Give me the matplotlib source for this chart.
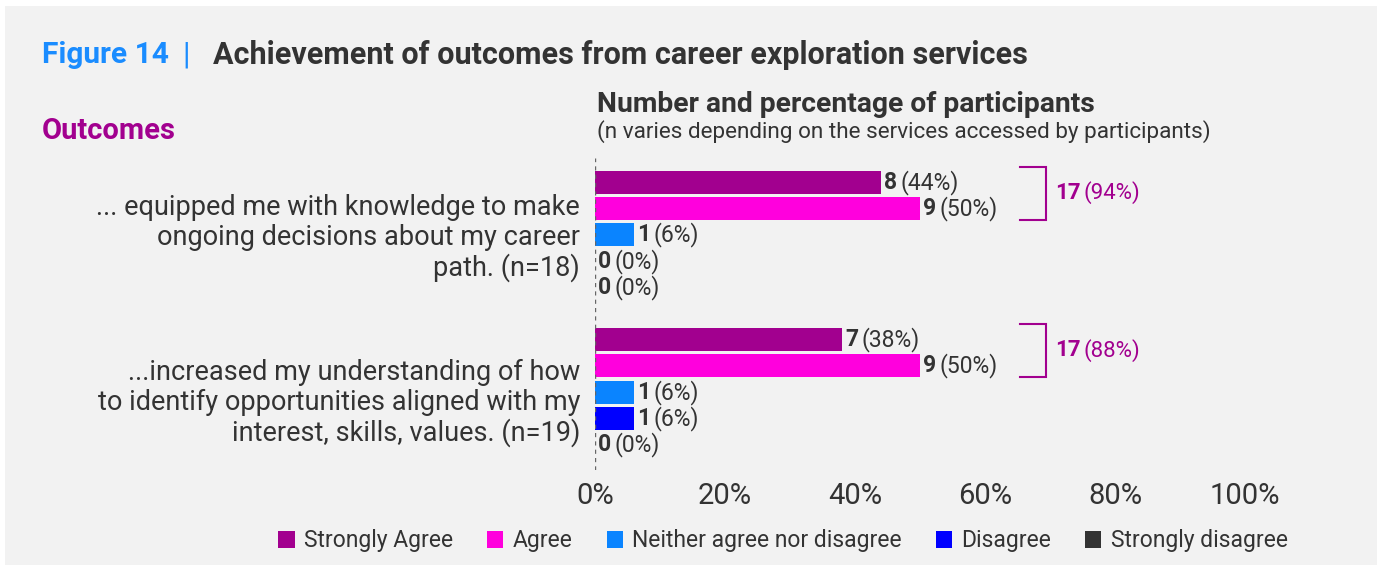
import numpy as np
import matplotlib.pyplot as plt
from matplotlib.patches import Rectangle, Patch

plt.rcParams['font.family'] = ['Liberation Sans Narrow', 'Roboto', 'DejaVu Sans']

# survey responses per outcome
outcomes = [
    "... equipped me with knowledge to make\nongoing decisions about my career\npath. (n=18)",
    "...increased my understanding of how\nto identify opportunities aligned with my\ninterest, skills, values. (n=19)",
]
responses = ["Strongly Agree", "Agree", "Neither agree nor disagree",
             "Disagree", "Strongly disagree"]
counts = [
    [8, 9, 1, 0, 0],
    [7, 9, 1, 1, 0],
]
percents = [
    [44, 50, 6, 0, 0],
    [38, 50, 6, 6, 0],
]
agree_total = [17, 17]
agree_total_pct = [94, 88]

colors = ["#a2008f", "#ff00dd", "#0a84ff", "#0000ff", "#333333"]
dark = "#333333"
purple = "#a2008f"
blue = "#1a8cff"

fig = plt.figure(figsize=(13.8, 5.71), dpi=100)
fig.patch.set_facecolor("white")
fig.patches.append(Rectangle((5 / 1380, 1 - 565 / 571), 1372 / 1380, 559 / 571,
                             transform=fig.transFigure, facecolor="#f2f2f2",
                             edgecolor="none", zorder=-10))

ax = fig.add_axes([595 / 1380, 1 - 470 / 571, 650 / 1380, 312 / 571])
ax.set_facecolor("none")

row_gap = 6
bar_h = 0.88
for g in range(len(outcomes)):
    for r in range(len(responses)):
        y = g * row_gap + r
        p = percents[g][r]
        ax.barh(y, p, height=bar_h, color=colors[r], zorder=2)
        t = ax.text(p + 0.5, y, str(counts[g][r]), ha="left", va="center",
                    fontsize=16.5, fontweight="bold", color=dark)
        ax.annotate(f"({p}%)", xy=(1, 0.5), xycoords=t, xytext=(2, 0),
                    textcoords="offset points", ha="left", va="center",
                    fontsize=16.5, color=dark)

    # bracket grouping the two agree bars
    top = g * row_gap - 0.6
    bot = g * row_gap + 1.42
    bx0, bx1 = 65.4, 69.4
    ax.plot([bx0, bx1, bx1, bx0], [top, top, bot, bot], color=purple, lw=1.5,
            clip_on=False, solid_joinstyle="miter")
    t = ax.text(70.8, g * row_gap + 0.4, str(agree_total[g]), ha="left", va="center",
                fontsize=16, fontweight="bold", color=purple)
    ax.annotate(f"({agree_total_pct[g]}%)", xy=(1, 0.5), xycoords=t, xytext=(2, 0),
                textcoords="offset points", ha="left", va="center",
                fontsize=16, color=purple)

ax.set_xlim(0, 100)
ax.set_ylim(10.97, -0.935)
ax.set_xticks(np.arange(0, 101, 20))
ax.set_xticklabels([f"{v}%" for v in range(0, 101, 20)], fontsize=21, color=dark)
ax.tick_params(axis="x", length=0, pad=9)
ax.set_yticks([])
for s in ax.spines.values():
    s.set_visible(False)
ax.axvline(0, color="#666666", lw=1, ls=(0, (3, 3)), zorder=3)

# outcome labels
label_rows = [2.13, 8.42]
for txt, yr in zip(outcomes, label_rows):
    ax.text(-2.3, yr, txt, ha="right", va="center", multialignment="right",
            fontsize=19.5, color=dark, linespacing=1.12)

# headings
fig.text(42 / 1380, 1 - 55 / 571, "Figure 14", fontsize=21.5, fontweight="bold",
         color=blue, va="center", ha="left")
fig.text(186 / 1380, 1 - 55 / 571, "|", fontsize=22, color=blue, va="center", ha="center")
fig.text(213 / 1380, 1 - 55 / 571, "Achievement of outcomes from career exploration services",
         fontsize=22, fontweight="bold", color=dark, va="center", ha="left")
fig.text(42 / 1380, 1 - 131 / 571, "Outcomes", fontsize=21, fontweight="bold",
         color=purple, va="center", ha="left")
fig.text(597 / 1380, 1 - 104 / 571, "Number and percentage of participants",
         fontsize=20.3, fontweight="bold", color=dark, va="center", ha="left")
fig.text(597 / 1380, 1 - 132 / 571,
         "(n varies depending on the services accessed by participants)",
         fontsize=16.2, color=dark, va="center", ha="left")

handles = [Patch(facecolor=c, edgecolor="none", label=l) for c, l in zip(colors, responses)]
fig.legend(handles=handles, loc="center", bbox_to_anchor=(783 / 1380, 1 - 541 / 571),
           ncol=5, frameon=False, fontsize=16.5, labelcolor=dark,
           handlelength=0.7, handleheight=0.7, handletextpad=0.4, columnspacing=1.5)

fig.savefig("out.png", dpi=100, facecolor=fig.get_facecolor())
